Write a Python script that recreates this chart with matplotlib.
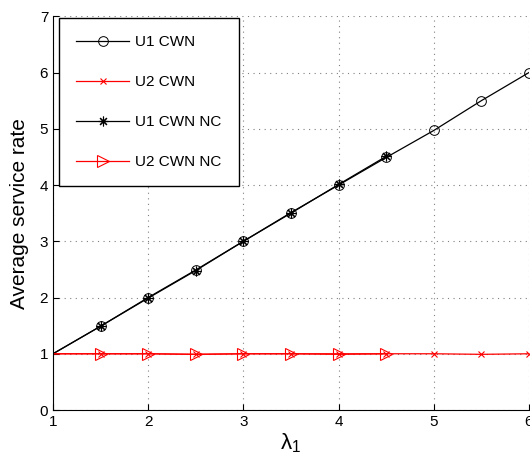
import numpy as np
import matplotlib
matplotlib.use('Agg')
import matplotlib.pyplot as plt

plt.rcParams['font.family'] = ['Liberation Sans', 'DejaVu Sans']

# lambda_1 values and average service rates
lam = [1, 1.5, 2, 2.5, 3, 3.5, 4, 4.5, 5, 5.5, 6]
u1_cwn = [1.0, 1.49, 2.0, 2.49, 3.0, 3.51, 4.0, 4.49, 4.97, 5.5, 6.0]
u2_cwn = [1.0, 1.0, 1.0, 0.99, 1.0, 1.0, 1.0, 1.0, 1.0, 0.99, 1.0]

lam_nc = [1, 1.5, 2, 2.5, 3, 3.5, 4, 4.5]
u1_cwn_nc = [1.0, 1.49, 1.99, 2.48, 3.0, 3.5, 4.01, 4.51]
u2_cwn_nc = [1.0, 1.0, 1.0, 0.99, 1.0, 1.0, 0.99, 1.0]

fig = plt.figure(figsize=(5.3, 4.61), dpi=100)
ax = fig.add_axes([0.1, 0.1106, 0.898, 0.854])

skip = slice(1, None)
ax.plot(lam, u1_cwn, color='black', lw=0.9, marker='o', ms=7, mfc='none',
        mew=0.7, markevery=skip, label='U1 CWN')
ax.plot(lam, u2_cwn, color='red', lw=0.9, marker='x', ms=5, mew=0.8,
        markevery=skip, label='U2 CWN')
# asterisk marker: 8 spokes
ax.plot(lam_nc, u1_cwn_nc, color='black', lw=0.9, marker=(8, 2, 0), ms=7, mew=0.8,
        markevery=skip, label='U1 CWN NC')
ax.plot(lam_nc, u2_cwn_nc, color='red', lw=0.9, marker='>', ms=8, mfc='none',
        mew=0.8, markevery=skip, label='U2 CWN NC')

ax.set_xlim(1, 6)
ax.set_ylim(0, 7)
ax.set_xticks(range(1, 7))
ax.set_yticks(range(0, 8))
ax.tick_params(direction='in', labelsize=11, length=4)
ax.grid(True, linestyle=(0, (1, 4)), color='gray', lw=0.8)
ax.spines['top'].set_visible(False)
ax.spines['right'].set_visible(False)

ax.set_xlabel(r'$\mathregular{\lambda_1}$', fontsize=16, labelpad=2)
ax.set_ylabel('Average service rate', fontsize=15, labelpad=8)

leg = ax.legend(loc='upper left', fontsize=11, handlelength=3.5, labelspacing=1.7,
                handletextpad=0.4, borderpad=1.1, borderaxespad=0,
                fancybox=False, framealpha=1, edgecolor='black',
                bbox_to_anchor=(0.0126, 0.995))
leg.get_frame().set_linewidth(1.0)

fig.savefig('out.png', dpi=100)
